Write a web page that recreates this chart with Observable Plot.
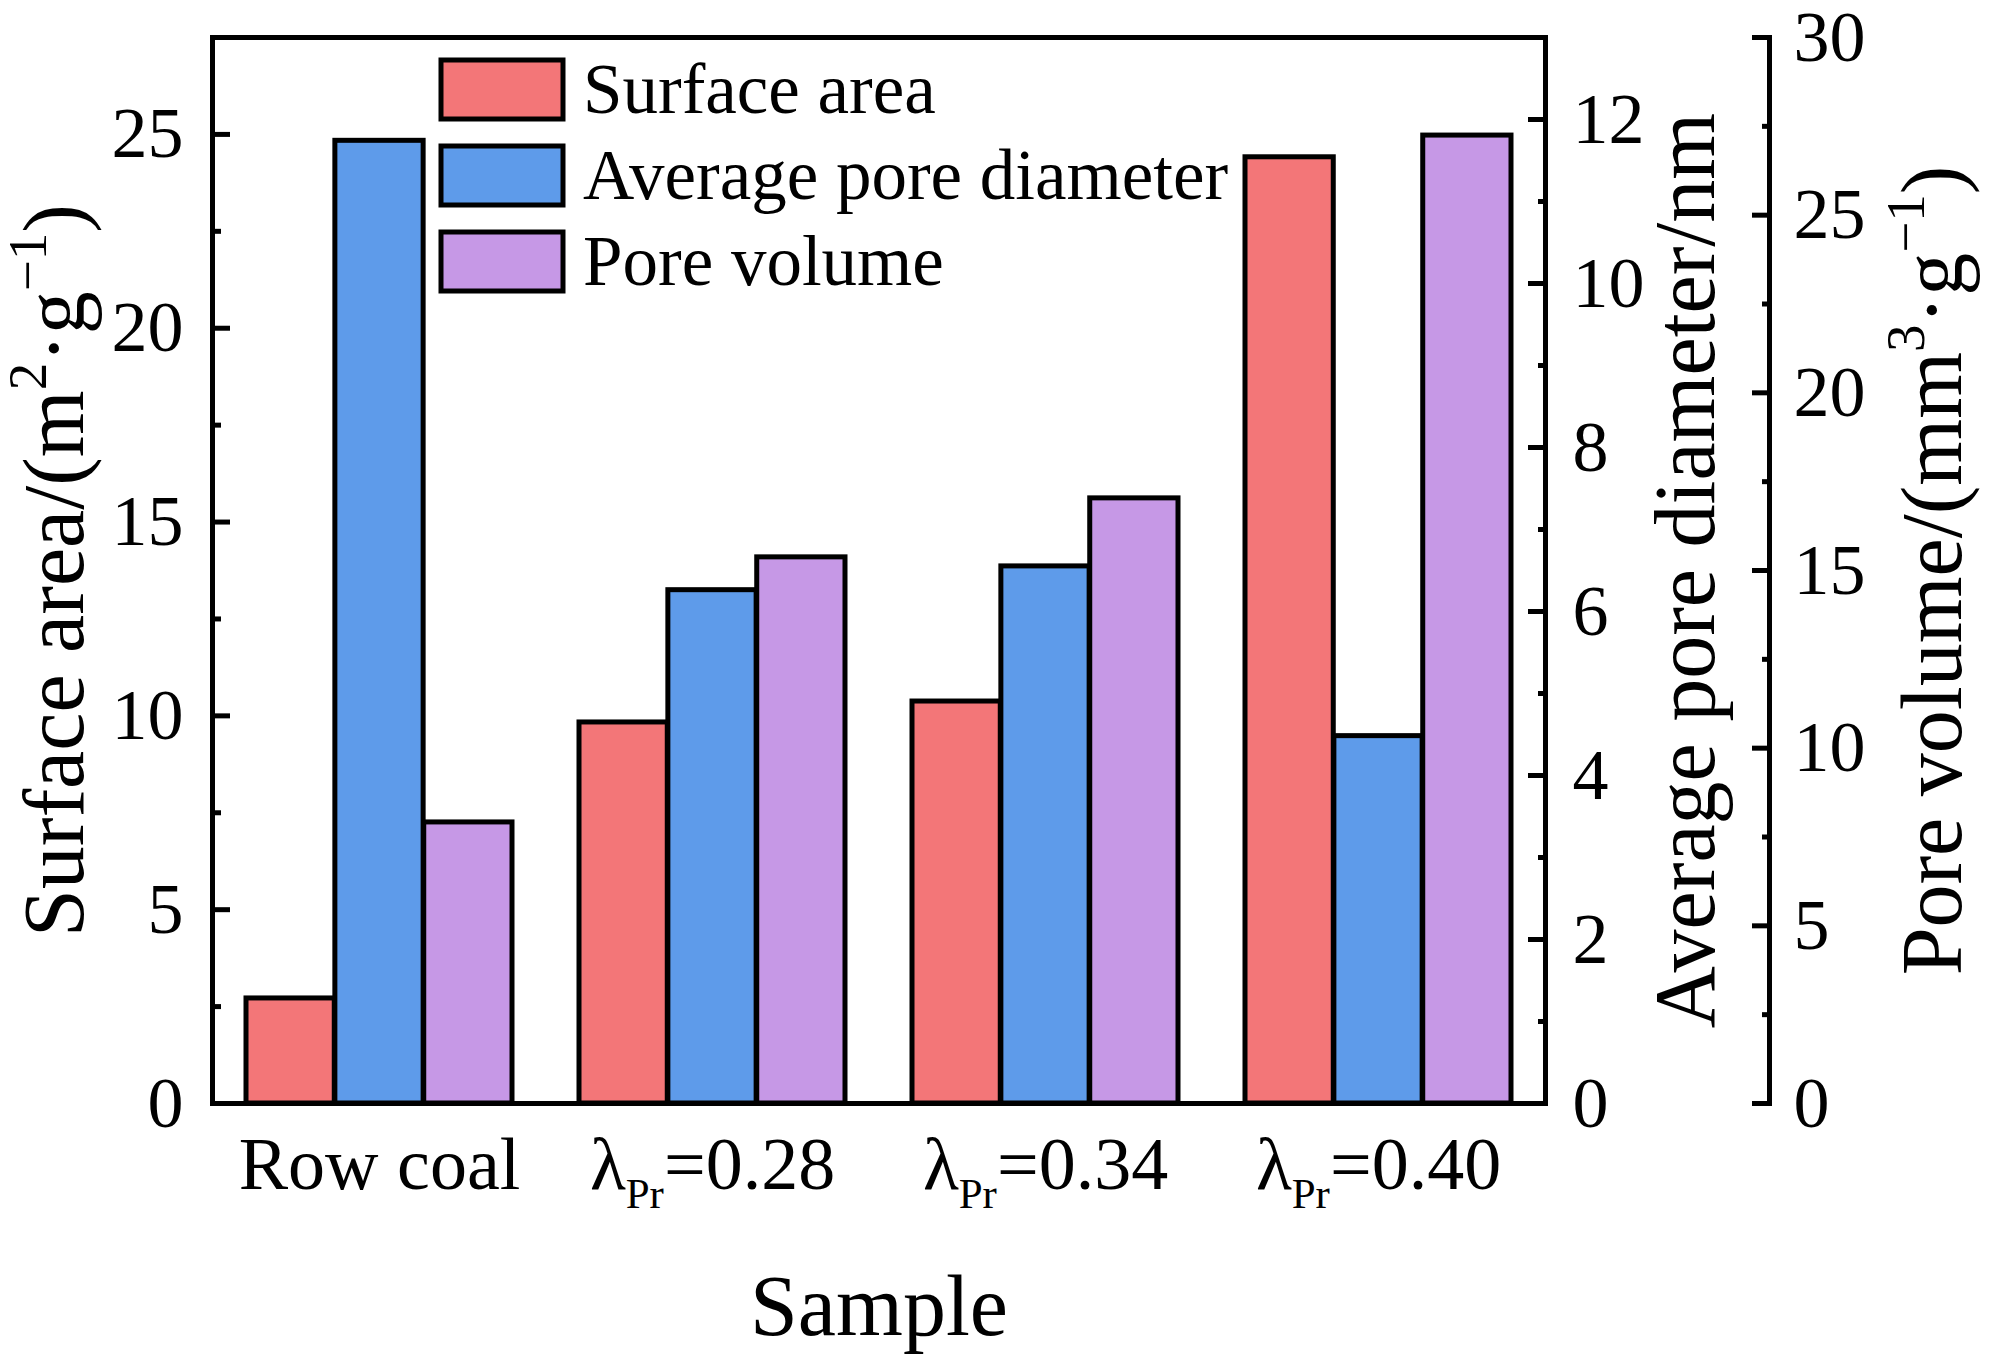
<!DOCTYPE html>
<html>
<head>
<meta charset="utf-8">
<script src="https://cdn.jsdelivr.net/npm/d3@7"></script>
<script src="https://cdn.jsdelivr.net/npm/@observablehq/plot@0.6"></script>
<style>
html, body { margin: 0; padding: 0; background: #fff; }
#chart { position: relative; width: 2002px; height: 1362px; background: #fff; }
#chart > svg { position: absolute; left: 0; top: 0; }
#legend { position: absolute; left: 441px; top: 60px; }
#legend .leg-swatches { display: flex !important; flex-direction: column !important; align-items: flex-start !important;
  font-family: "Liberation Serif", "Times New Roman", serif !important; font-size: 71px !important; color: #000 !important;
  min-height: 0 !important; margin: 0 !important; }
#legend .leg-swatch { display: flex !important; align-items: center !important; margin: 0 0 27px 0 !important; height: 59px; line-height: 59px; white-space: nowrap; }
#legend .leg-swatch > svg { overflow: visible !important; margin-right: 20px !important; }
#legend .leg-swatch > svg rect { stroke: #000; stroke-width: 5px; }
</style>
</head>
<body>
<div id="chart"><div id="legend"></div></div>
<script>
// ---- data ----
const samples = ["Row coal", "λPr=0.28", "λPr=0.34", "λPr=0.40"];
const seriesNames = ["Surface area", "Average pore diameter", "Pore volume"];
const surfaceArea = [2.71, 9.83, 10.37, 24.41];      // m2/g  (left axis)
const poreDiameter = [11.74, 6.26, 6.55, 4.48];      // nm    (middle axis)
const poreVolume = [7.91, 15.37, 17.03, 27.24];      // mm3/g (right axis)
const colors = ["#F37678", "#5E9BEA", "#C698E6"];

const leftMax = 27.5, midMax = 13, rightMax = 30;
const leftTicks = [0, 5, 10, 15, 20, 25];
const leftMinor = [2.5, 7.5, 12.5, 17.5, 22.5];
const midTicks = [0, 2, 4, 6, 8, 10, 12];
const midMinor = [1, 3, 5, 7, 9, 11];
const rightTicks = [0, 5, 10, 15, 20, 25, 30];
const rightMinor = [2.5, 7.5, 12.5, 17.5, 22.5, 27.5];

// rich-text pieces: "" normal, "sup" superscript, "sub" subscript
const sampleParts = {
  "Row coal": [["Row coal", ""]],
  "λPr=0.28": [["λ", ""], ["Pr", "sub"], ["=0.28", ""]],
  "λPr=0.34": [["λ", ""], ["Pr", "sub"], ["=0.34", ""]],
  "λPr=0.40": [["λ", ""], ["Pr", "sub"], ["=0.40", ""]]
};
const leftTitle = [["Surface area/(m", ""], ["2", "sup"], ["·g", ""], ["−1", "sup"], [")", ""]];
const midTitle = [["Average pore diameter/nm", ""]];
const rightTitle = [["Pore volume/(mm", ""], ["3", "sup"], ["·g", ""], ["−1", "sup"], [")", ""]];
const xTitle = "Sample";

// ---- layout ----
const W = 2002, H = 1362, ML = 212, MR = 457, MT = 37, MB = 259;
const FONT = "'Liberation Serif', 'Times New Roman', serif";
const TICKF = 72, XTICKF = 74, TITLEF = 86, SW = 5;

const xOptions = {domain: samples, paddingInner: 0.2, paddingOuter: 0.1};
const bw = Plot.scale({x: {type: "band", ...xOptions, range: [ML, W - MR]}}).bandwidth;
const sub = bw / seriesNames.length;

// ---- derived ----
const kMid = leftMax / midMax, kRight = leftMax / rightMax;
const seriesValues = [surfaceArea, poreDiameter.map(v => v * kMid), poreVolume.map(v => v * kRight)];
const plain = parts => parts.map(p => p[0]).join("");

const barMarks = seriesNames.map((name, j) =>
  Plot.barY(samples.map((s, i) => ({sample: s, series: name, y: seriesValues[j][i]})), {
    x: "sample", y: "y", fill: "series", stroke: "#000", strokeWidth: SW,
    insetLeft: j * sub, insetRight: (seriesNames.length - 1 - j) * sub
  })
);

const svg = Plot.plot({
  width: W, height: H,
  marginLeft: ML, marginRight: MR, marginTop: MT, marginBottom: MB,
  style: {fontFamily: FONT, fontSize: TICKF + "px", color: "#000", background: "#fff", overflow: "visible"},
  x: {...xOptions, label: null},
  y: {domain: [0, leftMax], label: null},
  color: {domain: seriesNames, range: colors},
  marks: [
    ...barMarks,
    // left axis
    Plot.axisY(leftTicks, {anchor: "left", tickSize: 18, dx: 18, tickFormat: () => "", label: null, strokeWidth: SW}),
    Plot.axisY(leftMinor, {anchor: "left", tickSize: 9, dx: 9, tickFormat: () => "", label: null, strokeWidth: SW}),
    Plot.axisY(leftTicks, {anchor: "left", tickSize: 0, tickPadding: 29, label: null, fontSize: TICKF}),
    // middle axis (on frame right)
    Plot.axisY(midTicks.map(t => t * kMid), {anchor: "right", tickSize: 18, dx: -18, tickFormat: () => "", label: null, strokeWidth: SW}),
    Plot.axisY(midMinor.map(t => t * kMid), {anchor: "right", tickSize: 8, dx: -8, tickFormat: () => "", label: null, strokeWidth: SW}),
    Plot.axisY(midTicks.map(t => t * kMid), {anchor: "right", tickSize: 0, tickPadding: 27, tickFormat: d => String(Math.round(d / kMid)), label: null, fontSize: TICKF}),
    // right (offset) axis
    Plot.frame({anchor: "right", dx: 224, stroke: "#000", strokeWidth: SW}),
    Plot.axisY(rightTicks.map(t => t * kRight), {anchor: "right", tickSize: 18, dx: 224 - 18, tickFormat: () => "", label: null, strokeWidth: SW}),
    Plot.axisY(rightMinor.map(t => t * kRight), {anchor: "right", tickSize: 8, dx: 224 - 8, tickFormat: () => "", label: null, strokeWidth: SW}),
    Plot.axisY(rightTicks.map(t => t * kRight), {anchor: "right", tickSize: 0, tickPadding: 24, dx: 224, tickFormat: d => String(Math.round(d / kRight)), label: null, fontSize: TICKF}),
    // x axis
    Plot.axisX({anchor: "bottom", tickSize: 0, tickPadding: 33, label: null, fontSize: XTICKF}),
    // frame
    Plot.frame({stroke: "#000", strokeWidth: SW}),
    // titles
    Plot.text([plain(leftTitle)], {text: d => d, frameAnchor: "left", rotate: -90, dx: -130, lineAnchor: "bottom", textAnchor: "middle", fontSize: TITLEF}),
    Plot.text([plain(midTitle)], {text: d => d, frameAnchor: "right", rotate: -90, dx: 168, lineAnchor: "bottom", textAnchor: "middle", fontSize: TITLEF}),
    Plot.text([plain(rightTitle)], {text: d => d, frameAnchor: "right", rotate: -90, dx: 415, lineAnchor: "bottom", textAnchor: "middle", fontSize: TITLEF}),
    Plot.text([xTitle], {text: d => d, frameAnchor: "bottom", dy: 231, lineAnchor: "bottom", textAnchor: "middle", fontSize: TITLEF})
  ]
});

// rich text: super/subscripts as tspans
function richText(root, parts, fontSize) {
  const target = plain(parts);
  root.querySelectorAll("text").forEach(t => {
    if (t.textContent !== target || parts.length < 2) return;
    t.textContent = "";
    let shift = 0;
    for (const [str, kind] of parts) {
      const ts = document.createElementNS("http://www.w3.org/2000/svg", "tspan");
      const want = kind === "sup" ? -0.42 * fontSize : kind === "sub" ? 0.25 * fontSize : 0;
      ts.setAttribute("dy", (want - shift).toFixed(2));
      shift = want;
      if (kind === "sup") ts.setAttribute("font-size", (0.64 * fontSize).toFixed(1));
      if (kind === "sub") ts.setAttribute("font-size", (0.58 * fontSize).toFixed(1));
      ts.textContent = str;
      t.appendChild(ts);
    }
  });
}
Object.values(sampleParts).forEach(p => richText(svg, p, XTICKF));
richText(svg, leftTitle, TITLEF);
richText(svg, rightTitle, TITLEF);

document.getElementById("chart").prepend(svg);

const legend = Plot.legend({
  color: {domain: seriesNames, range: colors},
  legend: "swatches",
  swatchWidth: 122, swatchHeight: 59,
  className: "leg"
});
document.getElementById("legend").appendChild(legend);
</script>
</body>
</html>
